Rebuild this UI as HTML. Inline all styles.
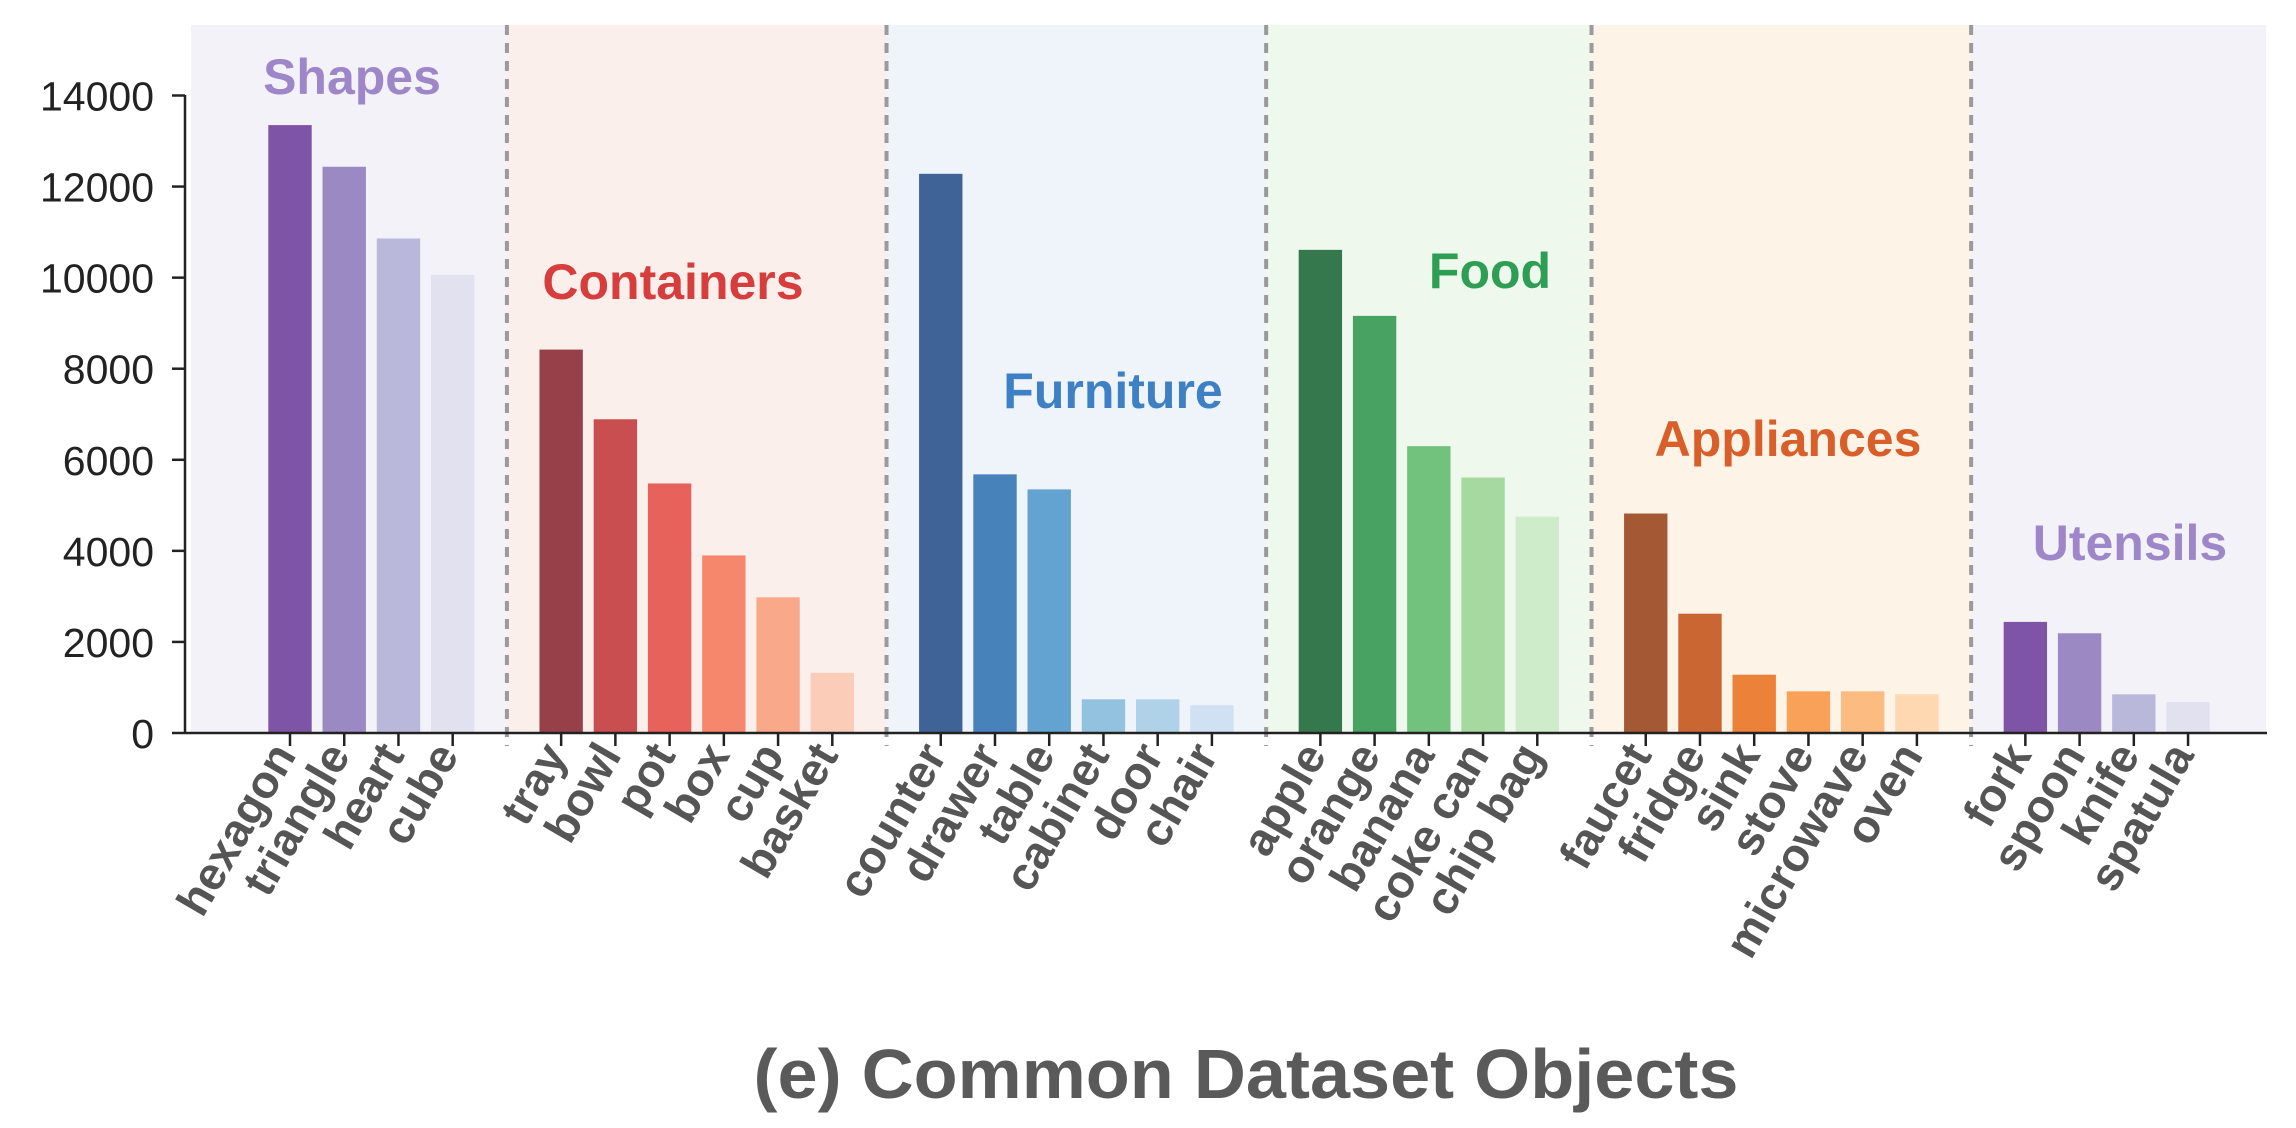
<!DOCTYPE html>
<html><head><meta charset="utf-8"><style>
html,body{margin:0;padding:0;background:#fff;}
svg{display:block;font-family:"Liberation Sans",sans-serif;}
</style></head><body>
<svg id="chart" width="2296" height="1128" viewBox="0 0 2296 1128" xmlns="http://www.w3.org/2000/svg">
<g id="bg"></g>
<g id="seps"></g>
<g id="bars"></g>
<g id="axes"></g>
<g id="titles"></g>
<text x="1246" y="1098" text-anchor="middle" font-size="70" font-weight="bold" fill="#5a5a5a" textLength="985" lengthAdjust="spacingAndGlyphs">(e) Common Dataset Objects</text>
</svg>
<script>
const groupNames = ["Shapes","Containers","Furniture","Food","Appliances","Utensils"];
const shapesCats = ["hexagon","triangle","heart","cube"];
const shapesVals = [13350,12435,10860,10060];
const containersCats = ["tray","bowl","pot","box","cup","basket"];
const containersVals = [8420,6890,5480,3900,2980,1320];
const furnitureCats = ["counter","drawer","table","cabinet","door","chair"];
const furnitureVals = [12280,5680,5350,740,740,610];
const foodCats = ["apple","orange","banana","coke can","chip bag"];
const foodVals = [10610,9160,6300,5610,4750];
const appliancesCats = ["faucet","fridge","sink","stove","microwave","oven"];
const appliancesVals = [4820,2620,1280,915,915,850];
const utensilsCats = ["fork","spoon","knife","spatula"];
const utensilsVals = [2440,2190,850,680];
const yTicks = [0,2000,4000,6000,8000,10000,12000,14000];

const cats=[shapesCats,containersCats,furnitureCats,foodCats,appliancesCats,utensilsCats];
const vals=[shapesVals,containersVals,furnitureVals,foodVals,appliancesVals,utensilsVals];
const palettes=[
 ["#7e55a6","#9a89c2","#bab8da","#e1e1ef"],
 ["#98404a","#c94e50","#e6625a","#f7876c","#f9a98a","#fbcdb8"],
 ["#3f6396","#4882bb","#62a3d1","#92c2e0","#b0d2e8","#cfe1f2"],
 ["#36784e","#48a262","#72c27e","#a5d9a0","#cfecca"],
 ["#a45834","#c96632","#ec8239","#f9a059","#fcbb80","#fdd8b0"],
 ["#7e55a6","#9a89c2","#bab8da","#e1e1ef"]];
const bgCols=["#f3f2f8","#fbefeb","#eff3fa","#eef8ec","#fdf3e7","#f3f2f8"];
const titleCols=["#9d87c8","#d63d3d","#3d80c4","#2e9e55","#d95f2a","#9d87c8"];
const titlePos=[[352,94],[673,299],[1113,408],[1490,288],[1788,456],[2130,560]];

const NS="http://www.w3.org/2000/svg";
const X0=290, STEP=54.23, Y0=733, YPX=(733-95.5)/14000;
const xs=i=>X0+i*STEP;
const ys=v=>Y0-v*YPX;
function mk(tag,attrs,parent){const e=document.createElementNS(NS,tag);for(const k in attrs)e.setAttribute(k,attrs[k]);parent.appendChild(e);return e;}
const gBg=document.getElementById('bg'),gSep=document.getElementById('seps'),gBars=document.getElementById('bars'),gAx=document.getElementById('axes'),gT=document.getElementById('titles');

let slot=0; const sepSlots=[];
let prevEdge=191;
cats.forEach((cs,g)=>{
  cs.forEach((c,j)=>{
    const x=xs(slot), v=vals[g][j];
    const r=mk('rect',{x:x-STEP*0.4,y:ys(v),width:STEP*0.8,height:Y0-ys(v),fill:palettes[g][j]},gBars);
    
    
    const t=mk('line',{x1:x,x2:x,y1:Y0,y2:Y0+13,stroke:"#222","stroke-width":2.5},gAx);
    
    
    const lb=mk('text',{x:x+7,y:Y0+22,"text-anchor":"end","font-size":46,"font-weight":"bold",fill:"#555",transform:`rotate(-60 ${x+7} ${Y0+22})`},gAx);
    lb.textContent=c;
    
    
    slot++;
  });
  let end;
  if(g<cats.length-1){end=xs(slot);sepSlots.push(slot);slot++;} else end=2266;
  const b=mk('rect',{x:prevEdge,y:25,width:end-prevEdge,height:Y0-25,fill:bgCols[g]},gBg);
  
  
  prevEdge=end;
  const tt=mk('text',{x:titlePos[g][0],y:titlePos[g][1],"text-anchor":"middle","font-size":50,"font-weight":"bold",fill:titleCols[g]},gT);
  tt.textContent=groupNames[g];
  
  
});
sepSlots.forEach(s=>{
  const x=xs(s);
  const l=mk('line',{x1:x,x2:x,y1:25,y2:Y0+13,stroke:"#9a9a9a","stroke-width":4,"stroke-dasharray":"10 8"},gSep);
  
  
});
const sp=mk('line',{x1:185,x2:185,y1:95,y2:Y0+1,stroke:"#222","stroke-width":2.5},gAx);


const xa=mk('line',{x1:185,x2:2267,y1:Y0,y2:Y0,stroke:"#222","stroke-width":2.5},gAx);


yTicks.forEach(v=>{
  const y=ys(v);
  const t=mk('line',{x1:172,x2:185,y1:y,y2:y,stroke:"#222","stroke-width":2.5},gAx);
  
  
  const l=mk('text',{x:154,y:y+15,"text-anchor":"end","font-size":41,fill:"#222"},gAx);
  l.textContent=v;
  
  
});
</script>
</body></html>
